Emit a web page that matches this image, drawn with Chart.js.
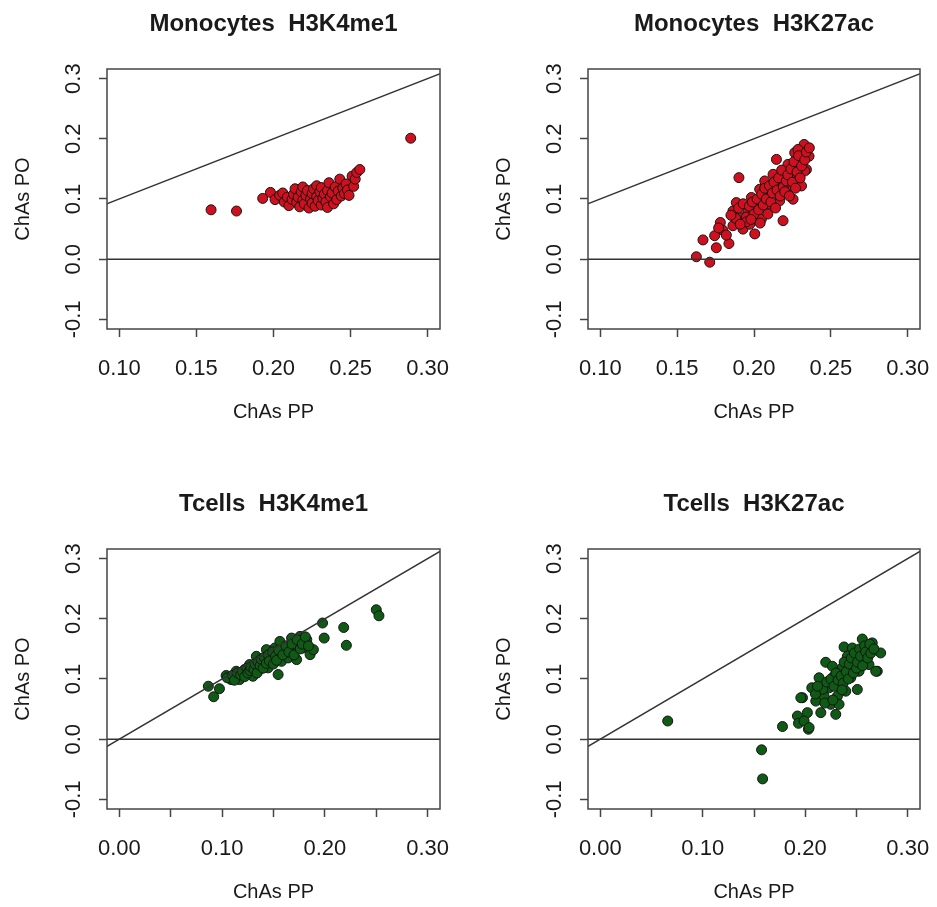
<!DOCTYPE html>
<html>
<head>
<meta charset="utf-8">
<script src="https://cdn.jsdelivr.net/npm/chart.js@4.4.1/dist/chart.umd.min.js"></script>
<style>
  body { margin: 0; background: #fff; }
  #wrap { position: relative; width: 937px; height: 907px; background: #fff; }
  canvas { position: absolute; }
</style>
</head>
<body>
<div id="wrap">
  <canvas id="c1" width="468" height="427" style="left:0;top:0"></canvas>
  <canvas id="c2" width="468" height="427" style="left:469px;top:0"></canvas>
  <canvas id="c3" width="468" height="427" style="left:0;top:480px"></canvas>
  <canvas id="c4" width="468" height="427" style="left:469px;top:480px"></canvas>
</div>
<script>
// points: [ChAs PP, ChAs PO]
const monoK4me1 = [
  [0.1595,0.082],[0.176,0.080],[0.289,0.201],
  [0.193,0.101],[0.198,0.111],[0.201,0.099],[0.204,0.106],[0.206,0.110],[0.207,0.095],[0.209,0.103],
  [0.210,0.089],[0.212,0.099],[0.213,0.108],[0.214,0.117],[0.215,0.094],[0.216,0.103],[0.217,0.087],
  [0.218,0.112],[0.219,0.098],[0.219,0.120],[0.220,0.092],[0.221,0.106],[0.222,0.114],[0.223,0.085],
  [0.224,0.100],[0.225,0.109],[0.225,0.093],[0.226,0.117],[0.227,0.088],[0.228,0.104],[0.228,0.122],
  [0.229,0.097],[0.230,0.112],[0.231,0.090],[0.231,0.119],[0.232,0.101],[0.233,0.108],[0.234,0.095],
  [0.235,0.114],[0.235,0.086],[0.236,0.127],[0.237,0.104],[0.238,0.110],[0.239,0.092],[0.240,0.120],
  [0.241,0.099],[0.242,0.113],[0.243,0.133],[0.244,0.105],[0.245,0.118],[0.246,0.109],[0.247,0.125],
  [0.248,0.115],[0.249,0.106],[0.251,0.138],[0.252,0.121],[0.253,0.133],[0.254,0.144],[0.256,0.149]
];
const monoK27ac = [
  [0.1625,0.004],[0.1712,-0.005],[0.1668,0.032],[0.1755,0.019],[0.1837,0.026],[0.1744,0.039],
  [0.1781,0.061],[0.1798,0.048],[0.1770,0.052],[0.1820,0.040],[0.1902,0.1355],[0.2189,0.064],
  [0.2254,0.0997],[0.2326,0.1906],[0.2358,0.171],[0.2341,0.149],[0.2309,0.1217],[0.2146,0.1658],
  [0.2005,0.042],[0.1863,0.0556],[0.1885,0.094],[0.1863,0.080],[0.1918,0.069],[0.1928,0.050],
  [0.1961,0.078],[0.1972,0.058],[0.1983,0.1025],[0.2016,0.0886],[0.2037,0.1162],[0.2048,0.0666],
  [0.2070,0.130],[0.2091,0.0914],[0.2102,0.1107],[0.2124,0.141],[0.2156,0.1245],[0.2167,0.097],
  [0.2200,0.1438],[0.2221,0.1575],[0.2232,0.1217],[0.2265,0.1769],[0.2276,0.1382],[0.2297,0.160],
  [0.2286,0.1823],[0.2330,0.1465],
  [0.190,0.085],[0.193,0.092],[0.195,0.070],[0.197,0.088],[0.199,0.095],[0.200,0.075],[0.202,0.100],
  [0.203,0.082],[0.205,0.108],[0.206,0.090],[0.207,0.118],[0.208,0.100],[0.209,0.075],[0.210,0.122],
  [0.211,0.095],[0.212,0.110],[0.213,0.128],[0.214,0.085],[0.215,0.115],[0.216,0.135],[0.217,0.105],
  [0.218,0.148],[0.219,0.120],[0.220,0.112],[0.221,0.130],[0.222,0.140],[0.223,0.105],[0.224,0.150],
  [0.225,0.128],[0.226,0.162],[0.227,0.118],[0.228,0.145],[0.229,0.172],[0.230,0.135],[0.231,0.155],
  [0.233,0.165],[0.234,0.178],[0.236,0.185],[0.195,0.062],[0.188,0.068],[0.191,0.058],[0.185,0.073],
  [0.204,0.060],[0.198,0.066]
];
const tcK4me1 = [
  [0.0866,0.088],[0.0918,0.0705],[0.0974,0.0838],[0.1039,0.1058],[0.1088,0.099],[0.1137,0.1129],
  [0.117,0.099],[0.1219,0.1157],[0.1268,0.124],[0.130,0.1046],[0.1333,0.1377],[0.1366,0.1157],
  [0.1398,0.1294],[0.1431,0.1488],[0.1447,0.1185],[0.148,0.1377],[0.1513,0.1515],[0.1545,0.1074],
  [0.1562,0.1625],[0.1578,0.1294],[0.1611,0.1433],[0.1643,0.135],[0.1676,0.168],[0.1709,0.1488],
  [0.1725,0.1322],[0.1758,0.1708],[0.179,0.1515],[0.1824,0.1653],[0.1856,0.1405],[0.1888,0.1488],
  [0.1977,0.193],[0.1993,0.168],[0.2183,0.1856],[0.2209,0.156],[0.250,0.215],[0.2526,0.205],
  [0.105,0.102],[0.110,0.106],[0.112,0.098],[0.115,0.110],[0.118,0.107],[0.120,0.112],[0.122,0.104],
  [0.124,0.118],[0.125,0.110],[0.127,0.114],[0.128,0.120],[0.131,0.116],[0.132,0.125],[0.134,0.110],
  [0.135,0.128],[0.137,0.122],[0.138,0.133],[0.140,0.118],[0.141,0.136],[0.143,0.126],[0.145,0.140],
  [0.146,0.130],[0.149,0.145],[0.150,0.125],[0.152,0.138],[0.153,0.131],[0.155,0.148],[0.159,0.140],
  [0.162,0.155],[0.165,0.145],[0.168,0.158],[0.170,0.140],[0.173,0.165],[0.176,0.150],[0.178,0.158],
  [0.181,0.170],[0.184,0.155]
];
const tcK27ac = [
  [0.0658,0.0302],[0.1574,-0.0177],[0.1584,-0.066],[0.1778,0.021],[0.1924,0.0385],[0.1934,0.0264],
  [0.2031,0.0165],[0.2021,0.0441],[0.2064,0.0854],[0.1973,0.0689],[0.2200,0.1278],[0.2557,0.1664],
  [0.2736,0.1433],[0.2703,0.1129],[0.2379,0.1532],[0.2135,0.102],[0.2298,0.0413],[0.2152,0.0441],
  [0.2508,0.0826],[0.2654,0.160],[0.1989,0.0302],[0.2038,0.0193],[0.1957,0.0689],[0.2103,0.0633],
  [0.2184,0.0716],[0.2233,0.0854],[0.2249,0.0579],[0.2281,0.1046],[0.2314,0.0716],[0.233,0.0909],
  [0.2362,0.1185],[0.2395,0.0798],[0.2411,0.1377],[0.2444,0.102],[0.246,0.1212],[0.2493,0.1433],
  [0.2525,0.1129],[0.2574,0.1322],[0.2606,0.1515],[0.2622,0.124],[0.2688,0.1129],[0.246,0.1515],
  [0.2265,0.1212],[0.233,0.0579],
  [0.217,0.083],[0.221,0.095],[0.225,0.100],[0.228,0.088],[0.230,0.110],[0.232,0.098],[0.235,0.105],
  [0.237,0.093],[0.238,0.128],[0.240,0.112],[0.242,0.100],[0.243,0.125],[0.245,0.135],[0.247,0.110],
  [0.248,0.143],[0.250,0.118],[0.251,0.128],[0.253,0.150],[0.254,0.138],[0.256,0.122],[0.258,0.155],
  [0.259,0.145],[0.261,0.135],[0.263,0.158],[0.264,0.143],[0.267,0.150],[0.210,0.075],[0.212,0.088],
  [0.219,0.060],[0.227,0.065],[0.236,0.082]
];

const titles = ['Monocytes  H3K4me1', 'Monocytes  H3K27ac', 'Tcells  H3K4me1', 'Tcells  H3K27ac'];
const xTicksMono = [0.10, 0.15, 0.20, 0.25, 0.30];
const xLabelsMono = ['0.10', '0.15', '0.20', '0.25', '0.30'];
const xTicksTc = [0.00, 0.05, 0.10, 0.15, 0.20, 0.25, 0.30];
const xLabelsTc = ['0.00', '', '0.10', '', '0.20', '', '0.30'];
const yTicks = [-0.1, 0.0, 0.1, 0.2, 0.3];
const yLabels = ['-0.1', '0.0', '0.1', '0.2', '0.3'];
const refLine = [-1, 1];

const RED = '#d0101e';
const GREEN = '#0f5a14';
const INK = '#1a1a1a';
const FONT = '"Liberation Sans", Arial, sans-serif';

// box, rotated y labels, x labels and main title, R style
const rStyle = {
  id: 'rStyle',
  afterDraw(chart, args, opts) {
    const {ctx, chartArea: a, scales: {x, y}} = chart;
    ctx.save();
    ctx.strokeStyle = '#444';
    ctx.lineWidth = 1.5;
    ctx.strokeRect(a.left, a.top, a.right - a.left, a.bottom - a.top);
    ctx.fillStyle = INK;
    ctx.font = '22px ' + FONT;
    ctx.textAlign = 'center';
    ctx.textBaseline = 'alphabetic';
    x.ticks.forEach((t, i) => {
      ctx.fillText(opts.xLabels[i], x.getPixelForValue(t.value), a.bottom + 46);
    });
    y.ticks.forEach((t, i) => {
      ctx.save();
      ctx.translate(a.left - 27, y.getPixelForValue(t.value));
      ctx.rotate(-Math.PI / 2);
      ctx.fillText(opts.yLabels[i], 0, 0);
      ctx.restore();
    });
    ctx.font = 'bold 24px ' + FONT;
    ctx.fillText(opts.title, (a.left + a.right) / 2, 31);
    ctx.restore();
  }
};

function makePanel(id, pts, color, title, xMin, xMax, xTicks, xLabels, areaLeft, areaRight) {
  const W = 468, H = 427;
  const line = (data) => ({
    data: data,
    showLine: true,
    borderColor: '#333',
    borderWidth: 1.5,
    pointRadius: 0,
    clip: 0,
    order: 1
  });
  new Chart(document.getElementById(id), {
    type: 'scatter',
    data: {
      datasets: [
        {
          data: pts.map(p => ({x: p[0], y: p[1]})),
          backgroundColor: color,
          borderColor: '#151515',
          borderWidth: 1,
          pointRadius: 5,
          order: 2
        },
        line(refLine.map(v => ({x: v, y: v}))),
        line(refLine.map(v => ({x: v, y: 0})))
      ]
    },
    options: {
      responsive: false,
      animation: false,
      devicePixelRatio: 1,
      events: [],
      layout: { padding: { left: 0, top: 69, right: W - areaRight, bottom: 0 } },
      plugins: {
        legend: { display: false },
        tooltip: { enabled: false },
        rStyle: { title: title, xLabels: xLabels, yLabels: yLabels }
      },
      scales: {
        x: {
          type: 'linear',
          min: xMin, max: xMax,
          afterBuildTicks: s => { s.ticks = xTicks.map(v => ({value: v})); },
          afterFit: s => { s.height = H - 329; },
          ticks: { display: false },
          grid: { drawOnChartArea: false, drawTicks: true, tickLength: 8, tickWidth: 1.5, tickColor: '#444' },
          border: { display: false },
          title: { display: true, text: 'ChAs PP', color: INK, font: { family: FONT, size: 20 },
                   padding: { top: 0, bottom: 2.5 } }
        },
        y: {
          type: 'linear',
          min: -0.116, max: 0.316,
          afterBuildTicks: s => { s.ticks = yTicks.map(v => ({value: v})); },
          afterFit: s => { s.width = areaLeft; },
          ticks: { display: false },
          grid: { drawOnChartArea: false, drawTicks: true, tickLength: 8, tickWidth: 1.5, tickColor: '#444' },
          border: { display: false },
          title: { display: true, text: 'ChAs PO', color: INK, font: { family: FONT, size: 20 },
                   padding: { top: areaLeft - 83.5 - 12, bottom: 0 } }
        }
      }
    },
    plugins: [rStyle]
  });
}

makePanel('c1', monoK4me1, RED, titles[0], 0.092, 0.308, xTicksMono, xLabelsMono, 107, 440);
makePanel('c2', monoK27ac, RED, titles[1], 0.092, 0.308, xTicksMono, xLabelsMono, 119, 451);
makePanel('c3', tcK4me1, GREEN, titles[2], -0.012, 0.312, xTicksTc, xLabelsTc, 107, 440);
makePanel('c4', tcK27ac, GREEN, titles[3], -0.012, 0.312, xTicksTc, xLabelsTc, 119, 451);
</script>
</body>
</html>
